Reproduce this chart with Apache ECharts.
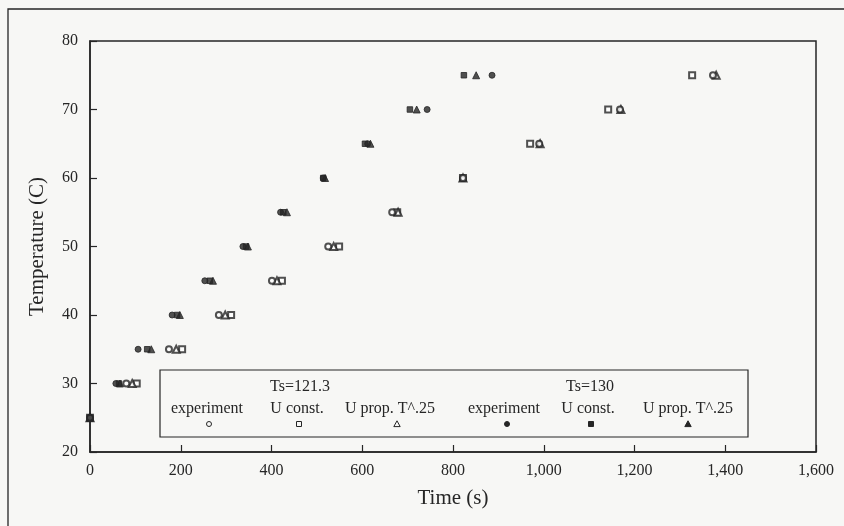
<!DOCTYPE html>
<html>
<head>
<meta charset="utf-8">
<script src="https://cdn.jsdelivr.net/npm/echarts@6/dist/echarts.min.js"></script>
<style>html,body{margin:0;padding:0;background:#f7f7f5;}#c{width:844px;height:526px;}</style>
</head>
<body>
<div id="c"></div>
<script>
// Temperature levels (C)
const temps = [25, 30, 35, 40, 45, 50, 55, 60, 65, 70, 75];
// Times (s) at which each temperature was reached
const exp121    = [0, 80, 174, 284, 401, 525, 666, 822, 990, 1168, 1373];
const uconst121 = [0, 103, 203, 311, 423, 549, 677, 822, 970, 1142, 1327];
const uprop121  = [0, 93, 190, 298, 412, 537, 679, 822, 992, 1170, 1380];
const exp130    = [0, 57, 106, 181, 253, 337, 420, 514, 612, 743, 886];
const uconst130 = [0, 64, 126, 192, 264, 344, 426, 514, 606, 705, 824];
const uprop130  = [0, 66, 135, 198, 271, 348, 434, 518, 618, 720, 851];
const xTicks = [0, 200, 400, 600, 800, 1000, 1200, 1400, 1600];
const yTicks = [20, 30, 40, 50, 60, 70, 80];

const ink = '#262626';
const font = 'Liberation Serif';

function pts(xs) { return xs.map((x, i) => [x, temps[i]]); }

const seriesDefs = [
  { name: 'Ts=121.3 experiment', data: exp121, symbol: 'emptyCircle', size: 6, z: 3 },
  { name: 'Ts=121.3 U const.', data: uconst121, symbol: 'emptyRect', size: 6, z: 2 },
  { name: 'Ts=121.3 U prop. T^.25', data: uprop121, symbol: 'emptyTriangle', size: 7, z: 2 },
  { name: 'Ts=130 experiment', data: exp130, symbol: 'circle', size: 6, z: 4 },
  { name: 'Ts=130 U const.', data: uconst130, symbol: 'rect', size: 5.5, z: 2 },
  { name: 'Ts=130 U prop. T^.25', data: uprop130, symbol: 'triangle', size: 7, z: 2 }
];

const chart = echarts.init(document.getElementById('c'));

// legend graphics (icon below text)
const legendY = 409, symY = 424;
const legendItems = [
  { t: 'experiment', x: 207, sx: 209, s: 'oc' },
  { t: 'U const.', x: 297, sx: 299, s: 'or' },
  { t: 'U prop. T^.25', x: 390, sx: 397, s: 'ot' },
  { t: 'experiment', x: 504, sx: 507, s: 'fc' },
  { t: 'U const.', x: 588, sx: 591, s: 'fr' },
  { t: 'U prop. T^.25', x: 688, sx: 688, s: 'ft' }
];
const g = [];
g.push({ type: 'rect', shape: { x: 8, y: 9, width: 900, height: 600 }, style: { fill: 'none', stroke: ink, lineWidth: 1.3 }, silent: true });
g.push({ type: 'rect', shape: { x: 160, y: 370, width: 588, height: 67 }, style: { fill: 'none', stroke: ink, lineWidth: 1.2 }, z: 10 });
g.push({ type: 'text', x: 300, y: 387, style: { text: 'Ts=121.3', font: '16px "' + font + '"', fill: ink, textAlign: 'center', textVerticalAlign: 'middle' }, z: 10 });
g.push({ type: 'text', x: 590, y: 387, style: { text: 'Ts=130', font: '16px "' + font + '"', fill: ink, textAlign: 'center', textVerticalAlign: 'middle' }, z: 10 });
legendItems.forEach(it => {
  g.push({ type: 'text', x: it.x, y: legendY, style: { text: it.t, font: '16px "' + font + '"', fill: ink, textAlign: 'center', textVerticalAlign: 'middle' }, z: 10 });
  const filled = it.s[0] === 'f';
  const st = { fill: filled ? ink : 'none', stroke: ink, lineWidth: 1 };
  const cx = it.sx;
  if (it.s[1] === 'c') g.push({ type: 'circle', shape: { cx: cx, cy: symY, r: 2.5 }, style: st, z: 10 });
  if (it.s[1] === 'r') g.push({ type: 'rect', shape: { x: cx - 2.5, y: symY - 2.5, width: 5, height: 5 }, style: st, z: 10 });
  if (it.s[1] === 't') g.push({ type: 'polygon', shape: { points: [[cx, symY - 3.2], [cx + 3.2, symY + 2.6], [cx - 3.2, symY + 2.6]] }, style: st, z: 10 });
});

chart.setOption({
  backgroundColor: '#f7f7f5',
  animation: false,
  grid: { left: 90, top: 41, right: 28, bottom: 74, show: true, borderColor: ink, borderWidth: 1.5, backgroundColor: 'transparent' },
  xAxis: {
    type: 'value', min: xTicks[0], max: xTicks[xTicks.length - 1], interval: 200,
    name: 'Time (s)', nameLocation: 'middle', nameGap: 36,
    nameTextStyle: { fontFamily: font, fontSize: 21, color: ink },
    axisLine: { show: true, lineStyle: { color: ink, width: 1.5 } },
    axisTick: { show: true, inside: true, length: 7, lineStyle: { color: ink, width: 1.2 } },
    axisLabel: { fontFamily: font, fontSize: 16, color: ink, margin: 11, formatter: v => v.toLocaleString('en-US') },
    splitLine: { show: false }
  },
  yAxis: {
    type: 'value', min: yTicks[0], max: yTicks[yTicks.length - 1], interval: 10,
    name: 'Temperature (C)', nameLocation: 'middle', nameGap: 42, nameRotate: 90,
    nameTextStyle: { fontFamily: font, fontSize: 21, color: ink },
    axisLine: { show: true, lineStyle: { color: ink, width: 1.5 } },
    axisTick: { show: true, inside: true, length: 7, lineStyle: { color: ink, width: 1.2 } },
    axisLabel: { fontFamily: font, fontSize: 16, color: ink, margin: 12 },
    splitLine: { show: false }
  },
  graphic: g,
  series: seriesDefs.map(s => ({
    name: s.name, type: 'scatter', data: pts(s.data), symbol: s.symbol, symbolSize: s.size, z: s.z,
    itemStyle: { color: ink, borderColor: ink, borderWidth: 1 }
  }))
});
</script>
</body>
</html>
